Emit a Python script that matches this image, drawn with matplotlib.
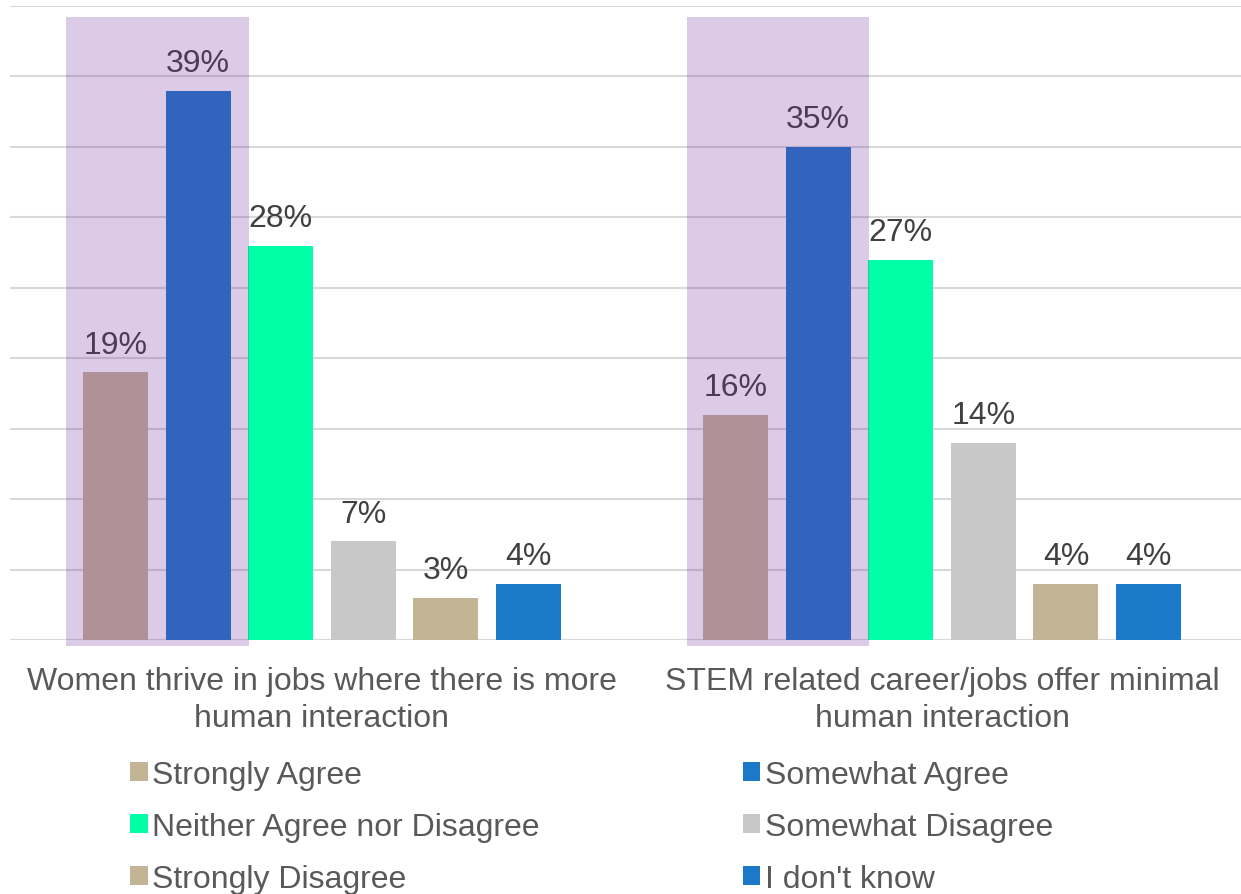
import numpy as np
import matplotlib.pyplot as plt
from matplotlib.patches import Rectangle, Patch

plt.rcParams['font.family'] = ['Liberation Sans', 'DejaVu Sans']

categories = ["Women thrive in jobs where there is more\nhuman interaction",
              "STEM related career/jobs offer minimal\nhuman interaction"]
series = ["Strongly Agree", "Somewhat Agree", "Neither Agree nor Disagree",
          "Somewhat Disagree", "Strongly Disagree", "I don't know"]
values = {
    "Strongly Agree": [19, 16],
    "Somewhat Agree": [39, 35],
    "Neither Agree nor Disagree": [28, 27],
    "Somewhat Disagree": [7, 14],
    "Strongly Disagree": [3, 4],
    "I don't know": [4, 4],
}
colors = ["#C4B496", "#1C78C8", "#00FFA6", "#C8C8C8", "#C4B496", "#1C78C8"]

FS = 23

fig = plt.figure(figsize=(12.41, 8.95), dpi=100)
ax = fig.add_axes([10 / 1241, 1 - 641 / 895, 1 - 10 / 1241, (641 - 7) / 895])

x = np.arange(len(categories))
step = 0.1332
width = 0.1048
offsets = (np.arange(len(series)) - 2.5) * step

for i, s in enumerate(series):
    vals = values[s]
    bars = ax.bar(x + offsets[i], vals, width, color=colors[i], zorder=2)
    for b, v in zip(bars, vals):
        ax.annotate(f"{v}%", (b.get_x() + b.get_width() / 2, v),
                    xytext=(0, 14), textcoords="offset points",
                    ha="center", va="baseline", fontsize=FS, color="#404040",
                    zorder=3)

# purple highlight over the two "agree" bars of each group
for xi in x:
    ax.add_patch(Rectangle((xi - 0.412, -0.45), 0.294, 44.65,
                           facecolor="#7030A0", alpha=0.25, edgecolor="none",
                           zorder=4, clip_on=False))

ax.set_ylim(0, 45)
ax.set_xlim(-0.503, 1.482)
ax.set_yticks(np.arange(0, 46, 5))
ax.yaxis.grid(True, color="#D9D9D9", linewidth=1.5, zorder=0)
ax.set_axisbelow(True)
ax.tick_params(axis="y", left=False, labelleft=False)
ax.tick_params(axis="x", bottom=False, pad=15)
ax.set_xticks(x)
ax.set_xticklabels(categories, fontsize=FS, color="#595959", linespacing=1.3)
for sp in ax.spines.values():
    sp.set_visible(False)

# legend in row order: left column, right column
order = [0, 2, 4, 1, 3, 5]
handles = [Patch(facecolor=colors[k], edgecolor="none") for k in order]
labels = [series[k] for k in order]
leg = fig.legend(handles, labels, ncol=2, loc="upper left",
                 bbox_to_anchor=(130 / 1241, 1 - 761 / 895),
                 frameon=False, fontsize=FS, handlelength=0.55,
                 handleheight=0.55, handletextpad=0.15, columnspacing=6.35,
                 labelspacing=0.69, borderaxespad=0, borderpad=0)
for t in leg.get_texts():
    t.set_color("#595959")

fig.savefig("out.png", dpi=100)
